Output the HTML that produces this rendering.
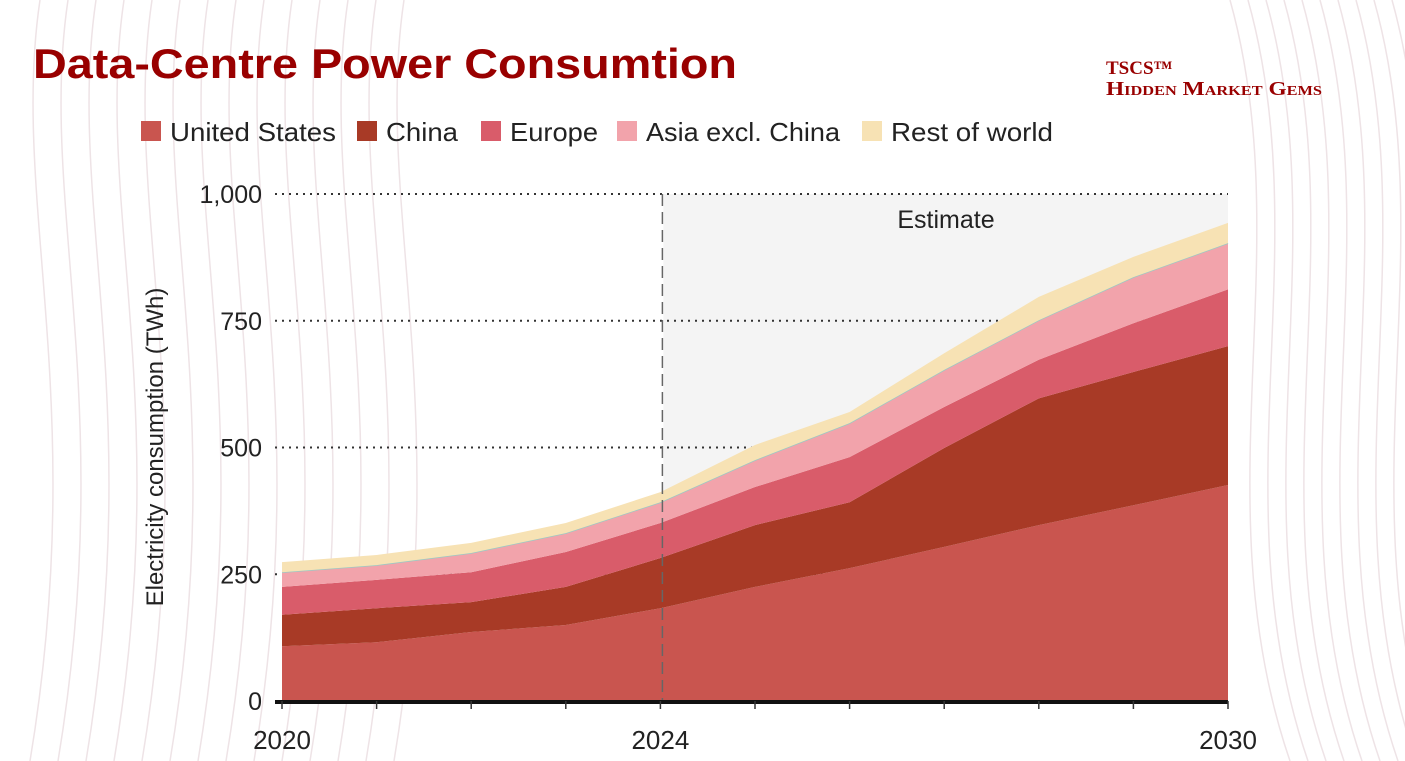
<!DOCTYPE html>
<html><head><meta charset="utf-8"><style>
body{margin:0;background:#fff;}
#wrap{position:relative;width:1405px;height:761px;overflow:hidden;font-family:"Liberation Sans",sans-serif;background:#fff;}
</style></head><body>
<div id="wrap">
<svg id="chart" width="1405" height="761"></svg>
</div>
<script>
const years=[2020,2021,2022,2023,2024,2025,2026,2027,2028,2029,2030];
const seriesNames=["United States","China","Europe","Asia excl. China","Rest of world"];
const usVals=[108,116,136,150,183,225,262,304,347,386,426];
const chinaVals=[62,67,59,75,99,122,130,195,250,263,274];
const europeVals=[55,56,59,69,69,75,89,81,76,96,112];
const asiaVals=[29,29,38,37,41,53,67,73,78,91,91];
const restVals=[20,20,20,20,20,30,22,33,46,40,40];
const yTicks=[0,250,500,750,1000];
const yTickLabels=["0","250","500","750","1,000"];
const xTickLabels=[2020,2024,2030];
const colors=["#c9554f","#a83a26","#d95c6a","#f2a3ab","#f7e2b4"];
const NS="http://www.w3.org/2000/svg";
const svg=document.getElementById('chart');
const x0=282,x1=1228,y0=701,y1=194;
const xs=y=>x0+(y-2020)/(2030-2020)*(x1-x0);
const ys=v=>y0-v/1000*(y0-y1);
function el(t,a,p){const e=document.createElementNS(NS,t);for(const k in a)e.setAttribute(k,a[k]);(p||svg).appendChild(e);return e;}
for(let i=0;i<14;i++){const p=el('path',{d:`M${40+i*28} 0 C ${10+i*28} 200, ${90+i*28} 400, ${30+i*28} 761`,fill:'none',stroke:'#eee3e6','stroke-width':1.5});

}
for(let i=0;i<10;i++){const p=el('path',{d:`M${1230+i*18} 0 C ${1300+i*18} 250, ${1200+i*18} 500, ${1290+i*18} 761`,fill:'none',stroke:'#eee3e6','stroke-width':1.5});

}
let r=el('rect',{x:xs(2024)+3,y:y1,width:x1-xs(2024)-3,height:y0-y1,fill:'#f4f4f4'});


yTicks.forEach((v,i)=>{
 if(v>0){const g=el('line',{x1:275,x2:x1,y1:ys(v),y2:ys(v),stroke:'#333','stroke-width':2,'stroke-dasharray':'2 5'});
 
 }
 const t=el('text',{x:262,y:ys(v)+9,'text-anchor':'end','font-size':25,fill:'#222'});t.textContent=yTickLabels[i];
 
 
});
const all=[usVals,chinaVals,europeVals,asiaVals,restVals];
let base=years.map(()=>0);
all.forEach((vals,si)=>{
 const top=base.map((b,i)=>b+vals[i]);
 let d='M'+years.map((y,i)=>xs(y)+','+ys(top[i])).join(' L');
 d+=' L'+years.slice().reverse().map((y,j)=>{const i=years.length-1-j;return xs(y)+','+ys(base[i]);}).join(' L')+'Z';
 const p=el('path',{d:d,fill:colors[si]});
 
 
 if(si===3){const l=el('polyline',{points:years.map((y,i)=>xs(y)+','+ys(top[i])).join(' '),fill:'none',stroke:'#9cc9c4','stroke-width':1.5});
 
 }
 base=top;
});
let dv=el('line',{x1:xs(2024)+2,x2:xs(2024)+2,y1:y1,y2:y0,stroke:'#666','stroke-width':1.5,'stroke-dasharray':'12 6'});


let et=el('text',{x:946,y:228,'text-anchor':'middle','font-size':25,fill:'#222'});et.textContent='Estimate';


let ax=el('line',{x1:275,x2:x1,y1:y0+1,y2:y0+1,stroke:'#111','stroke-width':4});


years.forEach(y=>{const tk=el('line',{x1:xs(y),x2:xs(y),y1:y0,y2:y0+8,stroke:'#333','stroke-width':1.5});
 
 });
xTickLabels.forEach(y=>{const t=el('text',{x:xs(y),y:749,'text-anchor':'middle','font-size':26,fill:'#222'});t.textContent=y;
 
 });
let yt=el('text',{x:0,y:0,transform:'translate(163,447) rotate(-90)','text-anchor':'middle','font-size':24,fill:'#222'});yt.textContent='Electricity consumption (TWh)';


const legX=[141,357,481,617,862];
seriesNames.forEach((n,i)=>{
 const g=el('g',{});
 
 
 el('rect',{x:legX[i],y:121,width:20,height:20,fill:colors[i]},g);
 const t=el('text',{x:legX[i]+29,y:141,'font-size':26,fill:'#222',textLength:[166,72,88,194,162][i],lengthAdjust:'spacingAndGlyphs'},g);t.textContent=n;
});
let ti=el('text',{x:33,y:78,'font-size':42,'font-weight':'bold',fill:'#990000',textLength:704,lengthAdjust:'spacingAndGlyphs'});ti.textContent='Data-Centre Power Consumtion';


let l1=el('text',{x:1106,y:74,'font-size':19,'font-weight':'bold',fill:'#990000','font-family':'Liberation Serif, serif'});l1.textContent='TSCS™';


let l2=el('text',{x:1106,y:95,'font-size':20,'font-weight':'bold',fill:'#990000','font-family':'Liberation Serif, serif','font-variant':'small-caps',textLength:216,lengthAdjust:'spacingAndGlyphs'});l2.textContent='Hidden Market Gems';


</script>
</body></html>
